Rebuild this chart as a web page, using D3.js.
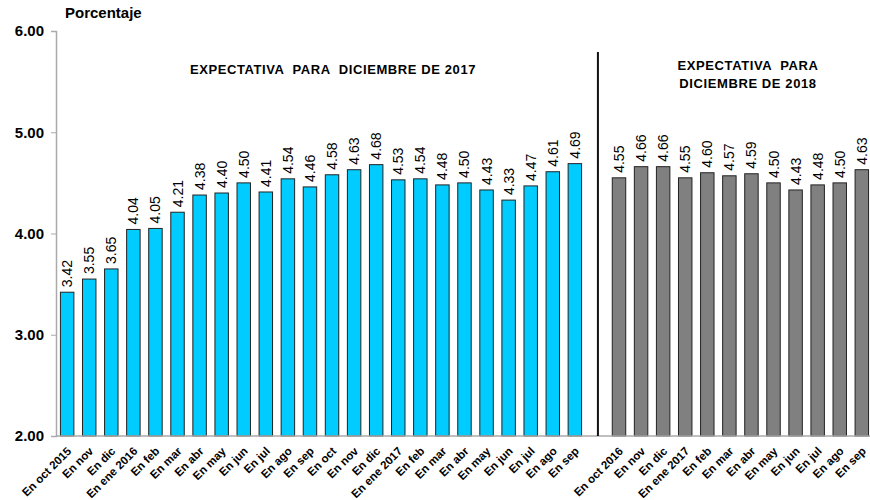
<!DOCTYPE html>
<html>
<head>
<meta charset="utf-8">
<script src="https://cdn.jsdelivr.net/npm/d3@7"></script>
<style>
  body { margin: 0; background: #fff; }
  svg { display: block; font-family: Arial, "Liberation Sans", sans-serif; }
</style>
</head>
<body>
<svg id="chart" width="870" height="500"></svg>
<script>
// expectativa para diciembre de 2017
const months2017 = ['En oct 2015', 'En nov', 'En dic', 'En ene 2016', 'En feb', 'En mar', 'En abr',
  'En may', 'En jun', 'En jul', 'En ago', 'En sep', 'En oct', 'En nov', 'En dic', 'En ene 2017',
  'En feb', 'En mar', 'En abr', 'En may', 'En jun', 'En jul', 'En ago', 'En sep'];
const values2017 = [3.42, 3.55, 3.65, 4.04, 4.05, 4.21, 4.38, 4.40, 4.50, 4.41, 4.54, 4.46,
  4.58, 4.63, 4.68, 4.53, 4.54, 4.48, 4.50, 4.43, 4.33, 4.47, 4.61, 4.69];

// expectativa para diciembre de 2018
const months2018 = ['En oct 2016', 'En nov', 'En dic', 'En ene 2017', 'En feb', 'En mar', 'En abr',
  'En may', 'En jun', 'En jul', 'En ago', 'En sep'];
const values2018 = [4.55, 4.66, 4.66, 4.55, 4.60, 4.57, 4.59, 4.50, 4.43, 4.48, 4.50, 4.63];

const yTicks = [2, 3, 4, 5, 6];

const svg = d3.select('#chart');
const margin = {left: 56, top: 31, bottom: 64};
const height = 500;

// one empty slot between the two groups
const rows = [];
months2017.forEach((m, i) => rows.push({key: 'a' + i, label: m, value: values2017[i], group: 0}));
rows.push({key: 'gap', label: '', value: null, group: -1});
months2018.forEach((m, i) => rows.push({key: 'b' + i, label: m, value: values2018[i], group: 1}));

const x = d3.scaleBand()
    .domain(rows.map(d => d.key))
    .range([margin.left, margin.left + 22.08 * rows.length])
    .paddingInner(0.39)
    .paddingOuter(0.2);

const y = d3.scaleLinear()
    .domain([2, 6])
    .range([height - margin.bottom, margin.top]);

// y axis
const yAxis = svg.append('g')
    .attr('transform', `translate(${margin.left},0)`)
    .call(d3.axisLeft(y).tickValues(yTicks).tickFormat(d3.format('.2f')).tickSize(5));
yAxis.select('.domain').attr('stroke', '#aaa').attr('stroke-width', 1.5);
yAxis.selectAll('.tick line').attr('stroke', '#aaa');
yAxis.selectAll('.tick text')
    .attr('x', -12)
    .style('font-size', '15px')
    .style('font-weight', 'bold')
    .attr('fill', '#000');

// bars
const colors = ['#00ccff', '#808080'];
svg.append('g').selectAll('rect')
  .data(rows.filter(d => d.value != null))
  .join('rect')
    .attr('x', d => x(d.key))
    .attr('y', d => y(d.value))
    .attr('width', x.bandwidth())
    .attr('height', d => y(2) - y(d.value))
    .attr('fill', d => colors[d.group])
    .attr('stroke', '#222')
    .attr('stroke-width', 1);

// value labels
svg.append('g').selectAll('text')
  .data(rows.filter(d => d.value != null))
  .join('text')
    .attr('transform', d => `translate(${x(d.key) + x.bandwidth() / 2 + 5},${y(d.value) - 5}) rotate(-90)`)
    .style('font-size', '14px')
    .text(d => d.value.toFixed(2));

// x axis
const xAxis = svg.append('g')
    .attr('transform', `translate(0,${y(2)})`)
    .call(d3.axisBottom(x).tickSize(0).tickFormat(k => rows.find(r => r.key === k).label));
xAxis.select('.domain').attr('stroke', '#aaa').attr('stroke-width', 1.5)
    .attr('d', `M${margin.left},0H870`);
xAxis.selectAll('.tick text')
    .attr('text-anchor', 'end')
    .attr('y', 0)
    .attr('transform', 'translate(2,13) rotate(-45)')
    .attr('dy', '0.35em')
    .style('font-size', '11.5px')
    .style('font-weight', 'bold')
    .attr('fill', '#000');

// separator
const sepX = x('gap') + x.bandwidth() / 2 + 1;
svg.append('line')
    .attr('x1', sepX).attr('x2', sepX)
    .attr('y1', 52).attr('y2', y(2))
    .attr('stroke', '#111')
    .attr('stroke-width', 2);

// titles
svg.append('text')
    .attr('x', 65).attr('y', 18)
    .style('font-size', '15px')
    .style('font-weight', 'bold')
    .text('Porcentaje');

svg.append('text')
    .attr('x', 333).attr('y', 74)
    .attr('text-anchor', 'middle')
    .style('font-size', '13px')
    .style('font-weight', 'bold')
    .style('letter-spacing', '0.6px')
    .style('white-space', 'pre')
    .attr('xml:space', 'preserve')
    .text('EXPECTATIVA  PARA  DICIEMBRE DE 2017');

const t2 = svg.append('text')
    .attr('text-anchor', 'middle')
    .style('font-size', '13px')
    .style('font-weight', 'bold')
    .style('letter-spacing', '0.6px')
    .style('white-space', 'pre')
    .attr('xml:space', 'preserve');
t2.append('tspan').attr('x', 748).attr('y', 70).text('EXPECTATIVA  PARA');
t2.append('tspan').attr('x', 748).attr('y', 88).text('DICIEMBRE DE 2018');
</script>
</body>
</html>
